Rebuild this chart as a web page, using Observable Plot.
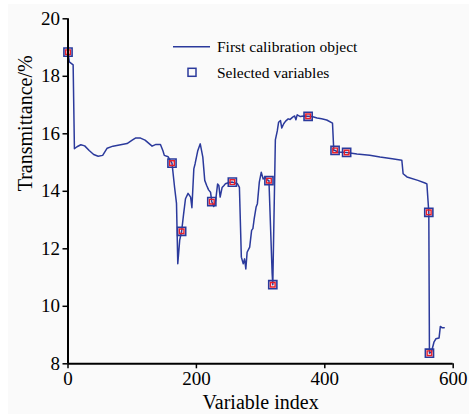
<!DOCTYPE html>
<html>
<head>
<meta charset="utf-8">
<script src="https://cdn.jsdelivr.net/npm/d3@7"></script>
<script src="https://cdn.jsdelivr.net/npm/@observablehq/plot@0.6"></script>
<style>
  html, body { margin: 0; padding: 0; background: #ffffff; }
  #wrap { position: relative; width: 469px; height: 414px; overflow: hidden; }
  #bg { position: absolute; left: 8px; top: 4px; right: 0; bottom: 0; background: #fafafa; }
  #chart { position: absolute; left: 0; top: 0; }
  #legend { position: absolute; left: 0; top: 0; pointer-events: none; }
  svg, svg text { font-family: "Liberation Serif", "Times New Roman", serif !important; }
</style>
</head>
<body>
<div id="wrap">
  <div id="bg"></div>
  <div id="chart"></div>
  <svg id="legend" width="469" height="414"></svg>
</div>
<script>
// Transmittance spectrum of the first calibration object (vertices of the trace)
const variableIndex = [
  0, 2, 5, 8, 10, 14, 20, 26, 33, 40, 47, 54, 61, 70, 82, 92, 100, 105, 113, 120,
  131, 137, 144, 148, 150, 156, 160, 162, 166, 169, 171, 174, 177, 180, 183, 187, 191, 193, 196, 198,
  202, 206, 210, 213, 216, 219, 222, 224, 227, 230, 233, 235, 237, 240, 243, 245, 250, 256, 264, 267,
  270, 273, 275, 277, 279, 283, 286, 288, 290, 293, 295, 298, 301, 304, 307, 310, 313, 318, 319, 323,
  326, 328, 331, 333, 336, 339, 343, 346, 350, 353, 355, 357, 362, 367, 374, 380, 388, 395, 403, 412,
  414, 416, 420, 434, 450, 470, 486, 505, 520, 522, 528, 545, 556, 559, 562, 563, 566, 570, 573, 578,
  580, 583, 586
];
const transmittance = [
  18.84, 18.5, 18.45, 18.4, 15.48, 15.55, 15.62, 15.58, 15.42, 15.28, 15.22, 15.25, 15.5, 15.57, 15.62, 15.66, 15.78, 15.85, 15.85, 15.78,
  15.57, 15.63, 15.63, 15.4, 15.25, 15.2, 15.05, 14.98, 14.14, 13.58, 11.48, 12.3, 12.61, 13.2, 13.74, 13.93, 13.8, 13.43, 14.78, 14.96,
  15.4, 15.65, 15.19, 14.38, 14.2, 14.05, 13.97, 13.64, 13.47, 13.68, 14.25, 14.2, 13.8, 14.13, 14.2, 14.26, 14.3, 14.32, 14.26, 14.14,
  11.71, 11.48, 11.65, 11.3, 11.88, 12.06, 12.64, 12.7, 13.04, 13.45, 13.57, 14.32, 14.66, 14.43, 14.49, 14.4, 14.37, 11.13, 10.75, 15.79,
  16.1, 16.4, 16.46, 16.2, 16.35, 16.44, 16.52, 16.5, 16.58, 16.62, 16.49, 16.66, 16.6, 16.62, 16.61, 16.6, 16.55, 16.52, 16.48, 16.37,
  15.42, 15.42, 15.37, 15.35, 15.3, 15.25, 15.19, 15.13, 15.08, 14.61, 14.5, 14.38, 14.29, 14.26, 13.27, 8.37, 8.4, 8.75, 8.87, 8.9,
  9.3, 9.25, 9.25
];

// Variables picked by the selection procedure
const selectedIndex = [0, 162, 177, 224, 256, 313, 319, 374, 416, 434, 562, 563];
const selectedValue = [18.84, 14.98, 12.61, 13.64, 14.32, 14.37, 10.75, 16.61, 15.42, 15.35, 13.27, 8.37];

const xTicks = [0, 200, 400, 600];
const yTicks = [8, 10, 12, 14, 16, 18, 20];

const blue = "#2b3a9c";
const red = "#e8202a";
const serif = "Liberation Serif, Times New Roman, serif";

const spectrum = variableIndex.map((x, i) => ({x, y: transmittance[i]}));
const selected = selectedIndex.map((x, i) => ({x, y: selectedValue[i]}));

const chart = Plot.plot({
  width: 469,
  height: 414,
  marginLeft: 67.5,
  marginRight: 16.3,
  marginTop: 18.3,
  marginBottom: 50.7,
  style: {background: "transparent", fontFamily: serif},
  x: {domain: [0, 600]},
  y: {domain: [8, 20]},
  marks: [
    Plot.line(spectrum, {x: "x", y: "y", stroke: blue, strokeWidth: 1.5}),
    Plot.dot(selected, {x: "x", y: "y", symbol: "square", r: 4.6, stroke: blue, strokeWidth: 1.6, fill: "none"}),
    Plot.dot(selected, {x: "x", y: "y", symbol: "square", r: 2.6, stroke: red, strokeWidth: 1.4, fill: "none"}),
    Plot.ruleY([8], {stroke: "black", strokeWidth: 2}),
    Plot.ruleX([0], {stroke: "black", strokeWidth: 2}),
    Plot.axisX({ticks: xTicks, tickSize: 5, tickPadding: 3, fontSize: 19, fontFamily: serif, label: null, stroke: "black", strokeWidth: 1.5, tickFormat: d => d}),
    Plot.axisY({ticks: yTicks, tickSize: 5, tickPadding: 3, fontSize: 19, fontFamily: serif, label: null, stroke: "black", strokeWidth: 1.5, tickFormat: d => d}),
    Plot.text(["Variable index"], {frameAnchor: "bottom", dy: 45, lineAnchor: "bottom", fontSize: 20, fontFamily: serif, fill: "black"}),
    Plot.text(["Transmittance/%"], {frameAnchor: "left", dx: -36, rotate: -90, lineAnchor: "bottom", fontSize: 20, fontFamily: serif, fill: "black"})
  ]
});
document.getElementById("chart").appendChild(chart);

// Legend in the upper part of the panel
const legend = d3.select("#legend");
legend.append("line")
  .attr("x1", 173).attr("x2", 210).attr("y1", 46.7).attr("y2", 46.7)
  .attr("stroke", blue).attr("stroke-width", 1.5);
legend.append("text")
  .attr("x", 217).attr("y", 52).attr("font-size", 15.5)
  .text("First calibration object");
legend.append("rect")
  .attr("x", 188).attr("y", 68.3).attr("width", 8).attr("height", 8)
  .attr("fill", "none").attr("stroke", blue).attr("stroke-width", 1.5);
legend.append("text")
  .attr("x", 217).attr("y", 78).attr("font-size", 15.5)
  .text("Selected variables");
</script>
</body>
</html>
